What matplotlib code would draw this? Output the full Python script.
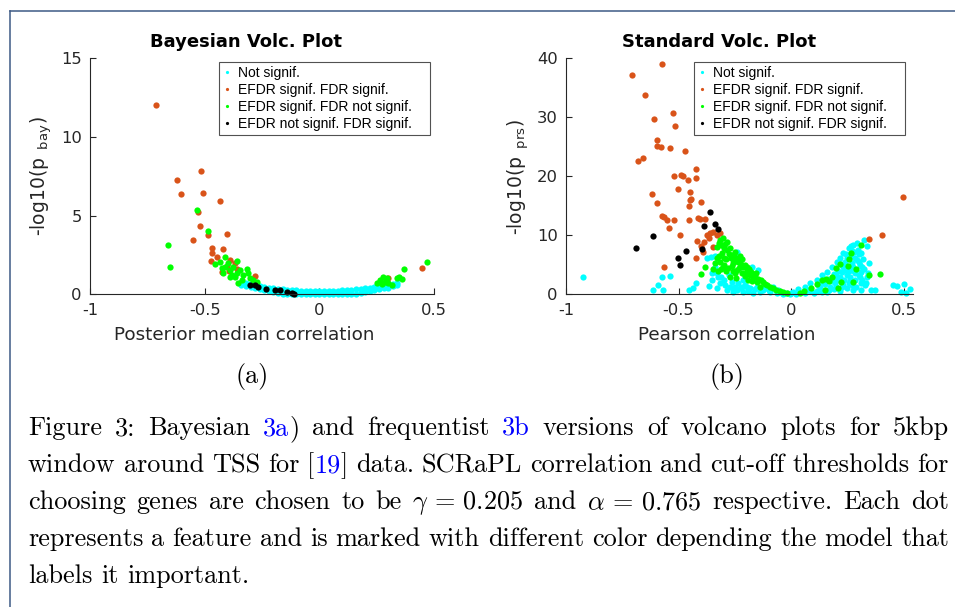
import re
import matplotlib
matplotlib.use("Agg")
import matplotlib.pyplot as plt
from matplotlib.lines import Line2D

plt.rcParams['font.family'] = 'DejaVu Sans'
plt.rcParams['mathtext.fontset'] = 'cm'
plt.rcParams['axes.unicode_minus'] = False

W, H = 955, 607

# Bayesian volcano plot: (posterior median correlation, -log10 p_bay)
bay_band_x = [-0.34, -0.32, -0.30, -0.28, -0.26, -0.24, -0.22, -0.20, -0.18, -0.16, -0.14, -0.12,
              -0.10, -0.08, -0.06, -0.04, -0.02, 0.00, 0.02, 0.04, 0.06, 0.08, 0.10, 0.12,
              0.14, 0.16, 0.18, 0.20, 0.22, 0.24, 0.26, 0.28, 0.30, 0.32, 0.34]
bay_band_top = [.78, .72, .65, .59, .53, .48, .43, .39, .35, .32, .29, .27, .25, .23, .22, .21, .20, .20,
                .20, .21, .22, .23, .25, .27, .29, .32, .35, .39, .43, .48, .53, .58, .63, .68, .74]
bay_band_low = [.60, .52, .45, .38, .32, .26, .20, .14, .08, .03, 0, 0, 0, 0, 0, 0, 0, 0,
                0, 0, 0, 0, 0, 0, 0, .03, .08, .13, .19, .25, .31, .37, .43, .50, .56]

bay_both_x = [-0.712, -0.622, -0.604, -0.515, -0.506, -0.432, -0.53, -0.519, -0.552, -0.487, -0.401,
              -0.467, -0.469, -0.421, -0.445, -0.474, -0.389, -0.368, -0.426, -0.404, -0.28, -0.36,
              -0.395, 0.447, 0.298]
bay_both_y = [12.0, 7.28, 6.39, 7.81, 6.43, 5.92, 5.2, 4.36, 3.45, 3.74, 3.81,
              2.94, 2.64, 2.86, 2.39, 2.13, 2.18, 1.97, 1.43, 1.8, 1.16, 1.6,
              1.45, 1.69, 1.05]

bay_efdr_x = [-0.66, -0.652, -0.532, -0.487, -0.411, -0.358, -0.454, -0.433, -0.426, -0.389, -0.389,
              -0.36, -0.346, -0.317, -0.331, -0.353, -0.375, -0.411, -0.397, -0.368, -0.302, -0.288,
              -0.338, -0.31, -0.273, -0.382, -0.419,
              0.468, 0.368, 0.359, 0.338, 0.294, 0.287, 0.272, 0.25, 0.301, 0.265, 0.316, 0.349, 0.279]
bay_efdr_y = [3.15, 1.73, 5.35, 4.02, 2.39, 2.1, 1.92, 2.07, 1.65, 1.54, 1.12,
              1.33, 1.54, 1.59, 1.23, 0.74, 1.75, 1.71, 1.97, 1.08, 1.02, 0.91,
              0.91, 1.33, 0.8, 1.23, 1.33,
              2.03, 1.61, 0.97, 1.02, 1.02, 0.8, 0.65, 0.7, 0.7, 0.91, 0.59, 1.08, 1.12]

bay_fdr_x = [-0.302, -0.28, -0.266, -0.232, -0.193, -0.171, -0.142, -0.12, -0.11]
bay_fdr_y = [0.57, 0.57, 0.48, 0.36, 0.27, 0.25, 0.13, 0.1, 0.04]

# Standard volcano plot: (Pearson correlation, -log10 p_prs)
prs_ns_x = [-0.923, -0.615, -0.59, -0.575, -0.538, -0.57, -0.452, -0.434, -0.422, -0.367, -0.357,
            -0.338, -0.352, -0.352, -0.323, -0.316, -0.293, -0.33, -0.286, -0.249, -0.227, -0.234,
            -0.204, -0.212, -0.264, -0.182, -0.152, -0.138, -0.168, -0.212, -0.093, -0.064, -0.034,
            -0.004, -0.338, -0.375, -0.241, -0.145, -0.175, -0.33, -0.256, -0.197, -0.123, -0.079,
            -0.049, -0.019, -0.11, -0.06, -0.03,
            -0.3, -0.27, -0.24, -0.19, -0.16, -0.13, -0.1, -0.275, -0.31, -0.26, -0.22,
            0.0, 0.02, 0.01, 0.032, 0.062, 0.084, 0.114, 0.136, 0.159, 0.181, 0.203, 0.218, 0.232,
            0.255, 0.277, 0.292, 0.324, 0.247, 0.27, 0.232, 0.292, 0.307, 0.284, 0.247, 0.218,
            0.262, 0.232, 0.196, 0.173, 0.247, 0.277, 0.218, 0.159, 0.114, 0.129, 0.314, 0.336,
            0.326, 0.344, 0.315, 0.333, 0.31, 0.354, 0.374, 0.452, 0.469, 0.503, 0.488, 0.511,
            0.527, 0.06, 0.09, 0.19, 0.21, 0.26, 0.3, 0.28, 0.24, 0.19, 0.15, 0.27, 0.3,
            0.12, 0.14, 0.165, 0.18, 0.2, 0.2, 0.225, 0.235, 0.24, 0.255, 0.26, 0.265, 0.275,
            0.28, 0.285, 0.295, 0.3, 0.305, 0.31, 0.32, 0.325, 0.285, 0.255, 0.225, 0.2, 0.17,
            0.135, 0.1, 0.07, 0.265, 0.31, 0.335, 0.34, 0.29, 0.31, 0.22, 0.245, 0.27]
prs_ns_y = [2.95, 0.8, 1.6, 2.98, 3.05, 0.8, 0.73, 1.02, 1.86, 1.4, 6.27,
            6.5, 3.56, 2.42, 2.98, 1.86, 1.58, 1.02, 0.73, 1.29, 1.02, 1.86,
            1.58, 2.42, 2.14, 1.02, 1.29, 0.44, 0.27, 0.44, 0.44, 0.17, 0.05,
            0.05, 4.68, 6.1, 7.22, 4.12, 4.68, 3.56, 1.02, 1.29, 0.73, 1.29,
            0.44, 0.17, 1.1, 0.7, 0.3,
            2.4, 1.2, 0.7, 0.6, 0.9, 1.0, 0.7, 3.3, 2.9, 0.4, 1.3,
            0.3, 0.1, 0.44, 0.85, 1.29, 1.86, 2.42, 3.27, 3.83, 4.68, 5.53, 6.1, 6.95,
            7.8, 8.36, 8.64, 9.2, 6.1, 5.25, 4.68, 5.81, 4.97, 3.56, 3.27, 2.98,
            2.42, 1.58, 1.86, 1.29, 1.02, 0.73, 0.61, 0.44, 0.61, 1.19, 2.42, 2.98,
            1.58, 5.25, 4.7, 1.97, 0.78, 0.73, 0.7, 1.58, 1.41, 1.8, 0.44, 0.17,
            0.85, 0.3, 0.5, 3.5, 4.0, 4.5, 6.8, 7.2, 5.5, 0.9, 1.8, 1.6, 3.2,
            1.5, 2.0, 2.6, 2.2, 2.5, 3.2, 3.8, 2.4, 4.1, 4.0, 3.0, 6.5, 4.6,
            3.9, 6.1, 7.5, 5.4, 2.9, 3.7, 6.0, 4.3, 2.4, 1.9, 1.2, 1.3, 0.7,
            0.35, 0.25, 0.8, 8.1, 7.0, 8.2, 3.6, 1.3, 1.9, 5.1, 6.8, 7.4]

prs_both_x = [-0.708, -0.575, -0.65, -0.607, -0.523, -0.514, -0.596, -0.597, -0.578, -0.538, -0.471,
              -0.658, -0.679, -0.519, -0.489, -0.48, -0.459, -0.421, -0.422, -0.502, -0.449, -0.619,
              -0.444, -0.45, -0.40, -0.596, -0.453, -0.573, -0.563, -0.552, -0.519, -0.413, -0.452,
              -0.381, -0.404, -0.542, -0.492, -0.375, -0.36, -0.345, -0.33, -0.316, -0.367, -0.387,
              -0.419, -0.4, -0.345, -0.392, -0.422, -0.564, 0.495, 0.403, 0.347]
prs_both_y = [37.1, 39.0, 33.8, 29.7, 30.7, 28.5, 26.1, 25.1, 25.0, 24.8, 24.2,
              23.0, 22.6, 20.1, 20.2, 20.1, 19.3, 21.2, 19.7, 17.8, 17.3, 16.9,
              16.1, 16.0, 15.7, 15.5, 15.0, 13.2, 13.1, 12.5, 12.6, 13.0, 12.5,
              12.8, 12.7, 11.3, 10.0, 10.05, 10.3, 10.6, 10.05, 10.3, 9.5, 8.9,
              9.0, 8.2, 8.07, 7.1, 6.2, 4.6, 16.4, 10.1, 9.37]

prs_efdr_x = [-0.304, -0.316, -0.328, -0.293, -0.283, -0.308, -0.271, -0.264, -0.249, -0.289, -0.316,
              -0.338, -0.381, -0.401, -0.345, -0.301, -0.256, -0.234, -0.227, -0.212, -0.279, -0.241,
              -0.197, -0.219, -0.182, -0.16, -0.19, -0.152, -0.123, -0.108, -0.138, -0.079, -0.049,
              -0.019, -0.271, -0.249, -0.3, -0.26, -0.22, -0.2, -0.17, -0.29, -0.32,
              -0.31, -0.297, -0.285, -0.276, -0.268, -0.255, -0.245, -0.236, -0.226, -0.218, -0.207,
              -0.198, -0.188, -0.178, -0.168, -0.158, -0.147, -0.135, -0.118, -0.095, -0.065, -0.035,
              -0.262, -0.232, -0.258, -0.296, -0.313, -0.325, -0.244, -0.206, -0.176, -0.33, -0.322,
              0.31, 0.264, 0.256, 0.252, 0.215, 0.201, 0.289, 0.344, 0.393, 0.277, 0.221, 0.206,
              0.15, 0.156, 0.136, 0.114, 0.09, 0.055, 0.041, 0.18, 0.17]
prs_efdr_y = [9.6, 9.2, 7.97, 8.5, 7.5, 6.95, 7.8, 6.66, 7.2, 5.93, 5.53,
              5.25, 4.68, 3.49, 4.24, 4.68, 5.25, 6.1, 5.25, 4.68, 4.4, 4.12,
              4.12, 3.56, 3.27, 2.98, 2.42, 2.14, 2.14, 1.58, 1.29, 1.02, 0.61,
              0.27, 2.98, 3.56, 6.2, 6.0, 4.9, 3.6, 3.0, 3.9, 6.5,
              8.4, 7.9, 8.9, 6.9, 6.2, 6.5, 5.8, 5.5, 6.4, 5.9, 5.0,
              4.6, 4.2, 3.8, 3.4, 3.6, 2.6, 2.4, 1.8, 1.3, 0.8, 0.45,
              4.8, 4.4, 3.9, 5.0, 4.2, 3.9, 2.7, 3.1, 2.2, 6.1, 8.6,
              8.35, 7.05, 5.9, 4.85, 5.1, 4.45, 4.3, 3.2, 3.5, 2.08, 2.08, 1.0,
              0.73, 2.65, 2.4, 1.75, 1.12, 0.6, 0.17, 3.0, 2.2]

prs_fdr_x = [-0.687, -0.612, -0.361, -0.387, -0.336, -0.324, -0.467, -0.398, -0.502, -0.493]
prs_fdr_y = [7.8, 9.9, 13.9, 11.5, 11.9, 11.1, 7.4, 7.7, 6.2, 5.0]

legend_labels = ['Not signif.', 'EFDR signif. FDR signif.',
                 'EFDR signif. FDR not signif.', 'EFDR not signif. FDR signif.']
colours = ['#00FFFF', '#D95319', '#00FF00', '#000000']

caption_lines = [
    "Figure 3: Bayesian {3a}) and frequentist {3b} versions of volcano plots for 5kbp",
    "window around TSS for [{19}] data. SCRaPL correlation and cut-off thresholds for",
    r"choosing genes are chosen to be $\gamma\,=\,0.205$ and $\alpha\,=\,0.765$ respective. Each dot",
    "represents a feature and is marked with different color depending the model that",
    "labels it important.",
]

axisCol = '#262626'
capSize = 18.9


def px(x, y):
    return x / W, 1 - y / H


def volcPlot(ax, groups, xlim, ylim, yticks, title, titleX, xlab, xlabX, ylab, ylabX, legBox):
    for (xs, ys), col in zip(groups, colours):
        ax.plot(xs, ys, 'o', color=col, markersize=4.5, markeredgewidth=0,
                linestyle='none', clip_on=False)
    ax.set_xlim(*xlim)
    ax.set_ylim(*ylim)
    ax.set_xticks([-1, -0.5, 0, 0.5])
    ax.set_xticklabels(['-1', '-0.5', '0', '0.5'])
    ax.set_yticks(yticks)
    for s in ['top', 'right']:
        ax.spines[s].set_visible(False)
    for s in ['left', 'bottom']:
        ax.spines[s].set_color(axisCol)
        ax.spines[s].set_linewidth(0.8)
    ax.tick_params(direction='in', length=4, width=0.8, colors=axisCol,
                   labelsize=11.8, pad=6)

    handles = [Line2D([], [], marker='o', color=c, markersize=2.3, markeredgewidth=0,
                      linestyle='none') for c in colours]
    leg = ax.legend(handles, legend_labels, loc='upper left', bbox_to_anchor=legBox,
                    mode='expand', borderaxespad=0,
                    prop={'family': 'Liberation Sans', 'size': 10}, frameon=True, fancybox=False,
                    handlelength=0.6, handletextpad=0.45, labelspacing=0.2,
                    borderpad=0.3)
    leg.get_frame().set_edgecolor(axisCol)
    leg.get_frame().set_linewidth(0.8)

    fig = ax.figure
    fig.text(*px(titleX, 42), title, fontsize=13, fontweight='bold', ha='center', va='center')
    fig.text(*px(xlabX, 335), xlab, fontsize=13.2, color=axisCol, ha='center', va='center')
    fig.text(*px(ylabX, 176.5), ylab, fontsize=13.5, color=axisCol, ha='center', va='center',
             rotation=90)


def captionLine(fig, line, y, justify, left=28, right=949):
    r = fig.canvas.get_renderer()
    words = []
    for word in line.split(' '):
        arts = []
        w = 0
        for seg in re.split(r'(\{[^}]*\})', word):
            if not seg:
                continue
            col = 'k'
            if seg.startswith('{'):
                seg, col = seg[1:-1], '#0000ff'
            t = fig.text(0, 1 - y / H, seg, color=col, fontsize=capSize,
                         family='cmr10', va='baseline', ha='left')
            arts.append((t, w))
            w += t.get_window_extent(r).width
        words.append((arts, w))
    total = sum(w for _, w in words)
    gap = (right - left - total) / (len(words) - 1) if justify else 8.5
    x = left
    for arts, w in words:
        for t, off in arts:
            t.set_x((x + off) / W)
        x += w + gap


def main():
    fig = plt.figure(figsize=(W / 100, H / 100), dpi=100)

    # thin frame round the page crop
    fig.add_artist(Line2D([10 / W, 1], [1 - 11 / H, 1 - 11 / H], color='#3d5a85', lw=1.1))
    fig.add_artist(Line2D([10 / W, 10 / W], [1 - 11 / H, 0], color='#3d5a85', lw=1.1))

    bottom = (H - 294.3) / H
    height = 236.3 / H
    ax1 = fig.add_axes([90 / W, bottom, 344 / W, height])
    ax2 = fig.add_axes([566 / W, bottom, 346.7 / W, height])

    bayGroups = [(bay_band_x + bay_band_x, bay_band_top + bay_band_low),
                 (bay_both_x, bay_both_y), (bay_efdr_x, bay_efdr_y), (bay_fdr_x, bay_fdr_y)]
    prsGroups = [(prs_ns_x, prs_ns_y), (prs_both_x, prs_both_y),
                 (prs_efdr_x, prs_efdr_y), (prs_fdr_x, prs_fdr_y)]

    volcPlot(ax1, bayGroups, (-1, 0.5), (0, 15), [0, 5, 10, 15], 'Bayesian Volc. Plot', 246,
             'Posterior median correlation', 244.7, r'-log10(p$_{\mathregular{\ \ bay}}$)', 41,
             (0.375, 0.5, 0.613, 0.483))
    volcPlot(ax2, prsGroups, (-1, 0.54), (0, 40), [0, 10, 20, 30, 40], 'Standard Volc. Plot', 719.5,
             'Pearson correlation', 726.3, r'-log10(p$_{\mathregular{\ \ prs}}$)', 518,
             (0.369, 0.5, 0.609, 0.483))

    fig.text(*px(252, 376.5), '(a)', family='cmr10', fontsize=capSize, ha='center', va='center')
    fig.text(*px(726.7, 376.5), '(b)', family='cmr10', fontsize=capSize, ha='center', va='center')

    for i, line in enumerate(caption_lines):
        captionLine(fig, line, 435 + 37.1 * i, justify=(i < len(caption_lines) - 1))

    fig.savefig('out.png', dpi=100)


if __name__ == "__main__":
    main()
